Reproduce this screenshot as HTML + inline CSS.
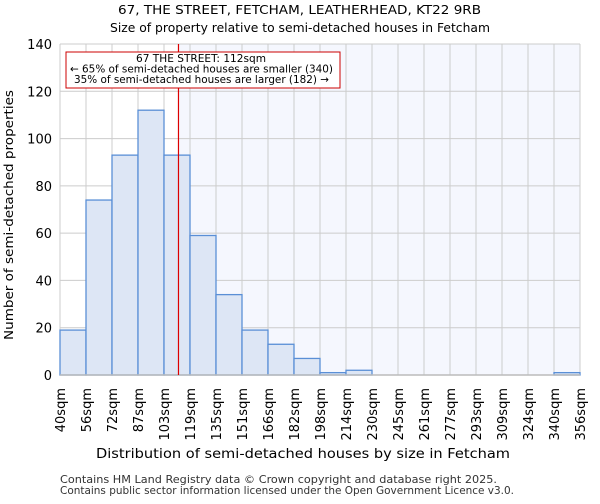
<!DOCTYPE html>
<html><head><meta charset="utf-8"><style>
body{margin:0;background:#fff;font-family:"DejaVu Sans","Liberation Sans",sans-serif;}
</style></head><body>
<svg width="600" height="500" xmlns="http://www.w3.org/2000/svg" font-family="DejaVu Sans, Liberation Sans, sans-serif">
<text x="118" y="14" textLength="363" lengthAdjust="spacingAndGlyphs" font-size="12.5">67, THE STREET, FETCHAM, LEATHERHEAD, KT22 9RB</text>
<text x="110" y="32" textLength="380" lengthAdjust="spacingAndGlyphs" font-size="12.5">Size of property relative to semi-detached houses in Fetcham</text>
<g id="plot"></g>
<text x="96" y="458" textLength="414" lengthAdjust="spacingAndGlyphs" font-size="13">Distribution of semi-detached houses by size in Fetcham</text>
<text transform="translate(13,340) rotate(-90)" textLength="250" lengthAdjust="spacingAndGlyphs" font-size="12.5">Number of semi-detached properties</text>
<text x="60" y="483" textLength="437" lengthAdjust="spacingAndGlyphs" font-size="10.5" fill="#333">Contains HM Land Registry data © Crown copyright and database right 2025.</text>
<text x="60" y="494" textLength="454" lengthAdjust="spacingAndGlyphs" font-size="10.5" fill="#333">Contains public sector information licensed under the Open Government Licence v3.0.</text>
</svg>
<script>
const categories=["40sqm","56sqm","72sqm","87sqm","103sqm","119sqm","135sqm","151sqm","166sqm","182sqm","198sqm","214sqm","230sqm","245sqm","261sqm","277sqm","293sqm","309sqm","324sqm","340sqm","356sqm"];
const counts=[19,74,93,112,93,59,34,19,13,7,1,2,0,0,0,0,0,0,0,1];
const yTicks=[0,20,40,60,80,100,120,140];
const binStart=40, binEnd=356, subject=112;
const X0=60,X1=580,Y0=375,Y1=44,YMAX=140;
const NS="http://www.w3.org/2000/svg";
const g=document.getElementById('plot');
const xs=v=>X0+(v-binStart)/(binEnd-binStart)*(X1-X0);
const xi=i=>X0+i*(X1-X0)/counts.length;
const ys=v=>Y0-v/YMAX*(Y0-Y1);
function mk(t,a){const e=document.createElementNS(NS,t);for(const k in a)e.setAttribute(k,a[k]);g.appendChild(e);return e;}
let e=mk('rect',{x:xs(subject),y:Y1,width:X1-xs(subject),height:Y0-Y1,fill:'#f5f7fe'});


yTicks.forEach(t=>{const l=mk('line',{x1:X0,x2:X1,y1:ys(t),y2:ys(t),stroke:'#ccc'});


const tx=mk('text',{x:X0-8,y:ys(t)+5,'text-anchor':'end','font-size':13});tx.textContent=t;

});
categories.forEach((c,i)=>{const x=xi(i);const l=mk('line',{x1:x,x2:x,y1:Y1,y2:Y0,stroke:'#ccc'});


const tx=mk('text',{transform:`translate(${x+5},${388}) rotate(-90)`,'text-anchor':'end','font-size':13});tx.textContent=c;

});
counts.forEach((v,i)=>{if(v<=0)return;const b=mk('rect',{x:xi(i),y:ys(v),width:xi(i+1)-xi(i),height:Y0-ys(v),fill:'#dde6f5',stroke:'#5a8fd6','stroke-width':1.3});

});
const ax=mk('line',{x1:X0,x2:X1,y1:Y0,y2:Y0,stroke:'#bbb','stroke-width':1.5});


const rl=mk('line',{x1:xs(subject),x2:xs(subject),y1:Y1,y2:Y0,stroke:'#d00','stroke-width':1.2});


const box=mk('rect',{x:66,y:52,width:274,height:36,fill:'#fff',stroke:'#c00'});


[["67 THE STREET: 112sqm",136,130],["← 65% of semi-detached houses are smaller (340)",70,263],["35% of semi-detached houses are larger (182) →",74,255]].forEach((s,k)=>{const t=mk('text',{x:s[1],y:62+k*10.5,textLength:s[2],lengthAdjust:'spacingAndGlyphs','font-size':10.5});t.textContent=s[0];

});
</script>
</body></html>
